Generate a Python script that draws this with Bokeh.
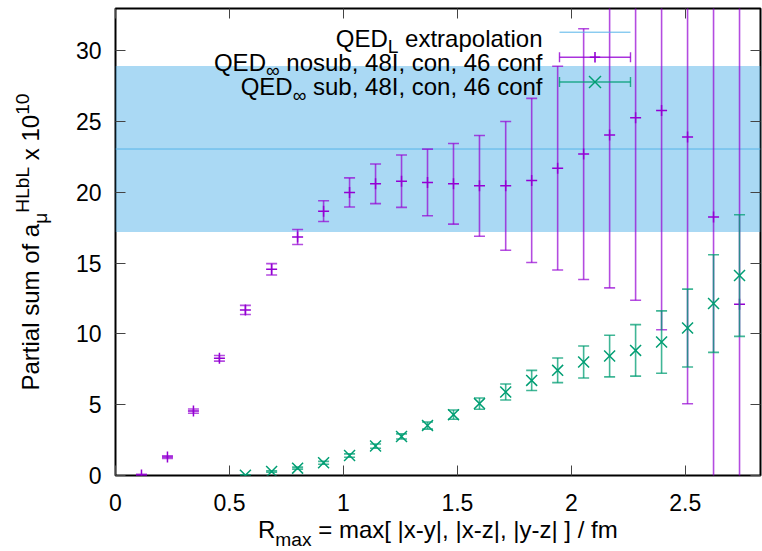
from bokeh.plotting import figure
from bokeh.models import (ColumnDataSource, Range1d, LinearAxis, FixedTicker,
                          Label, BoxAnnotation, Span, PolyAnnotation, Div)
from bokeh.layouts import row, column
from bokeh.embed import file_html
from bokeh.resources import INLINE

# ---------------- data ----------------
nosub_r = [0.114, 0.228, 0.342, 0.456, 0.570, 0.685, 0.799, 0.913, 1.027, 1.141,
           1.255, 1.369, 1.483, 1.597, 1.712, 1.826, 1.940, 2.054, 2.168, 2.282,
           2.396, 2.510, 2.624, 2.738]
nosub_val = [0.03, 1.30, 4.55, 8.28, 11.70, 14.57, 16.85, 18.68, 20.00, 20.61,
             20.80, 20.71, 20.61, 20.47, 20.47, 20.85, 21.72, 22.71, 24.06, 25.28,
             25.80, 23.92, 18.26, 12.10]
nosub_err = [0.05, 0.10, 0.15, 0.20, 0.32, 0.40, 0.53, 0.73, 1.03, 1.40,
             1.85, 2.35, 2.85, 3.56, 4.55, 5.80, 7.20, 8.86, 10.80, 12.90,
             15.50, 18.85, 22.00, 26.00]

sub_r = [0.570, 0.685, 0.799, 0.913, 1.027, 1.141, 1.255, 1.369, 1.483, 1.597,
         1.712, 1.826, 1.940, 2.054, 2.168, 2.282, 2.396, 2.510, 2.624, 2.738]
sub_val = [0.02, 0.28, 0.52, 0.90, 1.41, 2.08, 2.76, 3.53, 4.30, 5.08,
           5.90, 6.72, 7.43, 8.02, 8.44, 8.84, 9.43, 10.42, 12.15, 14.13]
sub_err = [0.03, 0.05, 0.07, 0.10, 0.12, 0.15, 0.18, 0.25, 0.33, 0.40,
           0.57, 0.71, 0.87, 1.13, 1.47, 1.82, 2.20, 2.75, 3.45, 4.30]

ext_val = 23.07
ext_err = 5.87

x_ticks = [0, 0.5, 1, 1.5, 2, 2.5]
y_ticks = [0, 5, 10, 15, 20, 25, 30]

NB = "\u00a0"
legend_texts = [("QED", "L", NB + "extrapolation"),
                ("QED", "\u221e", NB + "nosub, 48I, con, 46 conf"),
                ("QED", "\u221e", NB + "sub, 48I, con, 46 conf")]
xlabel_parts = ("R", "max", " = max[ |x-y|, |x-z|, |y-z| ] / fm")
ylabel_parts = ("Partial sum of a", "\u03bc", "HLbL", " x 10", "10")

# ---------------- style ----------------
PURPLE = "#9400d3"
GREEN = "#009e73"
BLUE = "#56b4e9"
FONT = "Liberation Sans"
FS = 24          # label font size px
SFS = 0.8 * FS   # sub/superscript size
TFS = 23         # tick label size

# Arial / Liberation Sans advance widths (1/1000 em)
W = {' ': 278, NB: 278, '[': 278, ']': 278, '|': 260, '-': 333, ',': 278, '.': 278,
     '/': 278, '=': 584, 'D': 722, 'E': 667, 'H': 722, 'I': 278, 'L': 556, 'P': 667,
     'Q': 778, 'R': 722, 'a': 556, 'b': 556, 'c': 500, 'e': 556, 'f': 278, 'i': 222,
     'l': 222, 'm': 833, 'n': 556, 'o': 556, 'p': 556, 'r': 333, 's': 500, 't': 278,
     'u': 556, 'x': 500, 'y': 500, 'z': 500, '\u221e': 713, '\u03bc': 576}


def tw(s, size):
    return sum(W.get(c, 556) for c in s) * size / 1000.0


# frame placement on the page (px)
FL, FB, FR, FT = 115, 475, 760, 8
YW = 64            # width of the y-title column
PW = 762 - YW      # figure width
PH = 514           # figure height


def fx(px):
    return px - FL


def fy(py):
    return FB - py


p = figure(width=PW, height=PH, output_backend="svg", toolbar_location=None,
           x_range=Range1d(0, 2.83), y_range=Range1d(0, 33),
           min_border_left=FL - YW, min_border_right=762 - FR, min_border_top=FT,
           min_border_bottom=PH - FB)
p.background_fill_color = "white"
p.border_fill_color = "white"
p.grid.visible = False
p.outline_line_color = "black"
p.outline_line_width = 2

for ax, tk in ((p.xaxis[0], x_ticks), (p.yaxis[0], y_ticks)):
    ax.ticker = FixedTicker(ticks=tk)
    ax.major_tick_in = 10
    ax.major_tick_out = 0
    ax.minor_tick_line_color = None
    ax.axis_line_color = None
    ax.major_tick_line_color = "#444444"
    ax.major_tick_line_width = 1
    ax.major_label_text_font = FONT
    ax.major_label_text_font_size = f"{TFS}px"
    ax.major_label_text_color = "black"
p.xaxis[0].major_label_standoff = 18
p.yaxis[0].major_label_standoff = 14

for side, tk in (("above", x_ticks), ("right", y_ticks)):
    mirror = LinearAxis(ticker=FixedTicker(ticks=tk), major_tick_in=10, major_tick_out=0,
                        minor_tick_line_color=None, axis_line_color=None,
                        major_tick_line_color="#444444", major_label_text_font_size="0px",
                        major_label_text_color=None, major_label_standoff=0)
    p.add_layout(mirror, side)

# ---------------- extrapolation band ----------------
p.add_layout(BoxAnnotation(bottom=ext_val - ext_err, top=ext_val + ext_err,
                           fill_color=BLUE, fill_alpha=0.5, line_color=None,
                           level="underlay"))
p.add_layout(Span(location=ext_val, dimension="width", line_color=BLUE,
                  line_width=1, level="underlay"))


# ---------------- series ----------------
def errbars(r, v, e, color, marker, msize, lalpha):
    src = ColumnDataSource(dict(x=r, y=v,
                                lo=[a - b for a, b in zip(v, e)],
                                hi=[a + b for a, b in zip(v, e)]))
    p.segment(x0="x", y0="lo", x1="x", y1="hi", source=src, line_color=color,
              line_width=1.6, line_alpha=lalpha)
    for col in ("lo", "hi"):
        p.scatter(x="x", y=col, source=src, marker="dash", size=11, line_color=color,
                  line_width=1.6, line_alpha=lalpha)
    p.scatter(x="x", y="y", source=src, marker=marker, size=msize, line_color=color,
              line_width=1.5)


errbars(nosub_r, nosub_val, nosub_err, PURPLE, "cross", 11, 0.7)
errbars(sub_r, sub_val, sub_err, GREEN, "x", 15.5, 0.75)

# ---------------- legend (text left of sample, gnuplot style) ----------------
text_right = fx(542)
baselines = [fy(37.8), fy(61.5), fy(86.2)]
sample_y = [fy(31.7), fy(56.7), fy(81.5)]
sx0, sx1 = fx(559), fx(630)
sxc = (sx0 + sx1) / 2
SUBSHIFT = 0.35 * FS


def lab(x, y, text, size):
    p.add_layout(Label(x=x, y=y, x_units="screen", y_units="screen", text=text,
                       text_font=FONT, text_font_size=f"{size}px", text_color="black",
                       text_align="left", text_baseline="alphabetic"))


for (a, s, b), yb in zip(legend_texts, baselines):
    total = tw(a, FS) + tw(s, SFS) + tw(b, FS)
    x = text_right - total
    lab(x, yb, a, FS)
    x += tw(a, FS)
    lab(x, yb - SUBSHIFT, s, SFS)
    x += tw(s, SFS)
    lab(x, yb, b, FS)


def seg(xs, ys, color, width=1.4, alpha=0.8):
    p.add_layout(PolyAnnotation(xs=xs, ys=ys, xs_units="screen", ys_units="screen",
                                line_color=color, line_width=width, line_alpha=alpha,
                                fill_alpha=0))


seg([sx0, sx1], [sample_y[0], sample_y[0]], BLUE, 1, 1.0)
for col, yy, mk in ((PURPLE, sample_y[1], "+"), (GREEN, sample_y[2], "x")):
    seg([sx0, sx1], [yy, yy], col)
    seg([sx0, sx0], [yy - 5, yy + 5], col)
    seg([sx1, sx1], [yy - 5, yy + 5], col)
    if mk == "+":
        seg([sxc - 5.2, sxc + 5.2], [yy, yy], col, 1.6, 1.0)
        seg([sxc, sxc], [yy - 5.2, yy + 5.2], col, 1.6, 1.0)
    else:
        seg([sxc - 6, sxc + 6], [yy - 6, yy + 6], col, 1.4, 1.0)
        seg([sxc - 6, sxc + 6], [yy + 6, yy - 6], col, 1.4, 1.0)

# ---------------- axis titles (HTML, for sub/superscripts) ----------------
base_css = f"font-family:'{FONT}';font-size:{FS}px;color:#000;white-space:nowrap;"
xsub_css = f"font-size:{SFS:.1f}px;position:relative;top:7.5px;"
sub_css = f"font-size:{SFS:.1f}px;position:relative;top:{SUBSHIFT:.1f}px;"
sup_css = f"font-size:{SFS:.1f}px;position:relative;top:-{0.42 * FS:.1f}px;"

xa, xb, xc = xlabel_parts
x_html = (f"<div style=\"{base_css}line-height:27px;padding-top:2px;padding-left:258px;\">"
          f"{xa}<span style=\"{xsub_css}\">{xb}</span>{xc}</div>")

ya, yb_, yc, yd, ye = ylabel_parts
y_html = (f"<div style=\"width:{YW}px;height:484px;display:flex;align-items:center;"
          f"justify-content:center;\">"
          f"<div style=\"{base_css}line-height:28px;transform:rotate(-90deg);\">"
          f"{ya}<span style=\"{sub_css}\">{yb_}</span>"
          f"<span style=\"{sup_css}\">{yc}</span>{yd}"
          f"<span style=\"{sup_css}\">{ye}</span></div></div>")

ydiv = Div(text=y_html, width=YW, height=PH, margin=0)
xdiv = Div(text=x_html, width=762, height=551 - PH, margin=0)

layout = column(row(ydiv, p, spacing=0), xdiv, spacing=0)

open("out.html", "w").write(file_html(layout, INLINE))
